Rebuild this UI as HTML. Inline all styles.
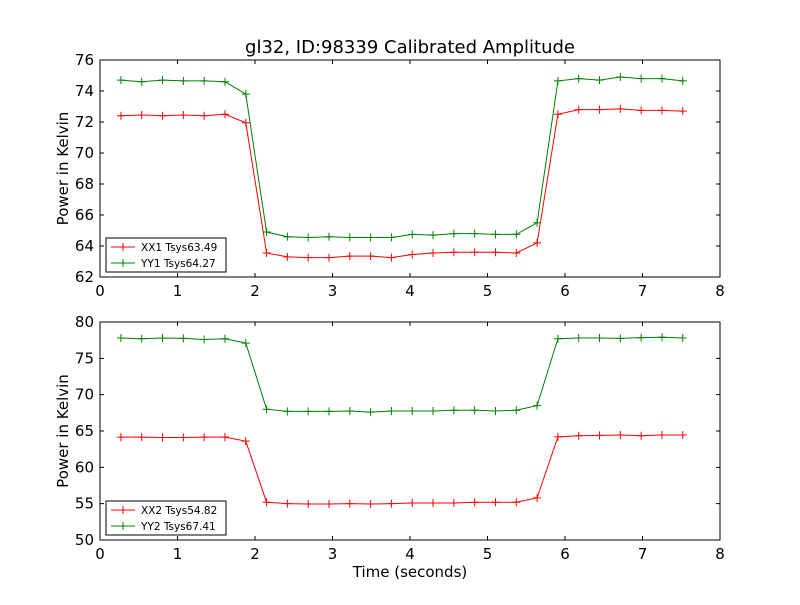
<!DOCTYPE html>
<html><head><meta charset="utf-8"><style>
body{margin:0;background:#fff;}
svg{font-family:"DejaVu Sans","Liberation Sans",sans-serif;}
</style></head><body>
<svg id="chart" width="800" height="600" xmlns="http://www.w3.org/2000/svg">
<rect width="800" height="600" fill="#fff"/>
<text x="410" y="53" text-anchor="middle" font-size="18">gl32, ID:98339 Calibrated Amplitude</text>
</svg>
<script>
const times0 = 0.27, dt = 0.2685;
const xTicks = [0,1,2,3,4,5,6,7,8];
const topTicks = [62,64,66,68,70,72,74,76];
const botTicks = [50,55,60,65,70,75,80];
const xx1 = [72.4,72.45,72.4,72.45,72.4,72.5,71.95,63.55,63.3,63.25,63.25,63.35,63.35,63.25,63.45,63.55,63.6,63.6,63.6,63.55,64.2,72.5,72.8,72.8,72.85,72.75,72.75,72.7];
const yy1 = [74.7,74.6,74.7,74.65,74.65,74.6,73.8,64.9,64.6,64.55,64.6,64.55,64.55,64.55,64.75,64.7,64.8,64.8,64.75,64.75,65.5,74.65,74.8,74.7,74.9,74.8,74.8,74.65];
const xx2 = [64.15,64.15,64.1,64.1,64.15,64.15,63.6,55.2,55.0,54.95,54.95,55.0,54.95,55.0,55.1,55.1,55.1,55.2,55.2,55.2,55.8,64.2,64.35,64.4,64.45,64.35,64.45,64.45];
const yy2 = [77.8,77.7,77.8,77.75,77.6,77.7,77.1,68.0,67.7,67.7,67.7,67.75,67.6,67.75,67.75,67.75,67.85,67.85,67.75,67.85,68.5,77.7,77.8,77.8,77.75,77.85,77.9,77.8];
const legendTop = ["XX1 Tsys63.49","YY1 Tsys64.27"];
const legendBot = ["XX2 Tsys54.82","YY2 Tsys67.41"];
const ns="http://www.w3.org/2000/svg", svg=document.getElementById('chart');
function mk(t,a,p){const e=document.createElementNS(ns,t);for(const k in a)e.setAttribute(k,a[k]);(p||svg).appendChild(e);return e;}
const L=100,R=720;
const xs=v=>L+(v-0)/8*(R-L);
function panel(top,bot,ymin,ymax,ticks,s1,s2,leg,name,showXLabel){
  const ys=v=>bot-(v-ymin)/(ymax-ymin)*(bot-top);
  const g=mk('g',{});
  
  
  [[s1,'#ff0000'],[s2,'#008000']].forEach(([s,c],si)=>{
    const pts=s.map((v,i)=>xs(times0+i*dt)+','+ys(v)).join(' ');
    const pl=mk('polyline',{points:pts,fill:'none',stroke:c,'stroke-width':1},g);
    
    
    s.forEach((v,i)=>{const x=xs(times0+i*dt),y=ys(v);
      const m=mk('path',{d:`M${x-4},${y}H${x+4}M${x},${y-4}V${y+4}`,stroke:c,'stroke-width':1},g);
      
      });
  });
  const fr=mk('rect',{x:L,y:top,width:R-L,height:bot-top,fill:'none',stroke:'#000','stroke-width':1},g);
  
  
  xTicks.forEach(t=>{const x=xs(t);
    mk('path',{d:`M${x},${bot}v-4M${x},${top}v4`,stroke:'#000'},g);
    const tx=mk('text',{x:x,y:bot+19,'text-anchor':'middle','font-size':15},g);tx.textContent=t;
    
    });
  ticks.forEach(t=>{const y=ys(t);
    mk('path',{d:`M${L},${y}h4M${R},${y}h-4`,stroke:'#000'},g);
    const tx=mk('text',{x:L-6,y:y+5,'text-anchor':'end','font-size':15},g);tx.textContent=t;
    
    });
  const yl=mk('text',{x:68,y:(top+bot)/2,'text-anchor':'middle','font-size':15,transform:`rotate(-90 68 ${(top+bot)/2})`},g);
  yl.textContent='Power in Kelvin';
  
  
  const lg=mk('g',{},g);
  
  
  mk('rect',{x:106,y:bot-39,width:120,height:34,fill:'#fff',stroke:'#000'},lg);
  leg.forEach((t,i)=>{const y=bot-30+i*16,c=i?'#008000':'#ff0000';
    mk('path',{d:`M111,${y}h24M123,${y-4}v8`,stroke:c},lg);
    const tx=mk('text',{x:141,y:y+4,'font-size':10.5},lg);tx.textContent=t;
    
    });
  if(showXLabel){const t=mk('text',{x:410,y:577,'text-anchor':'middle','font-size':15},g);t.textContent='Time (seconds)';
    
    }
}
panel(60,277,62,76,topTicks,xx1,yy1,legendTop,'top-panel',false);
panel(322,540,50,80,botTicks,xx2,yy2,legendBot,'bottom-panel',true);
</script>
</body></html>
